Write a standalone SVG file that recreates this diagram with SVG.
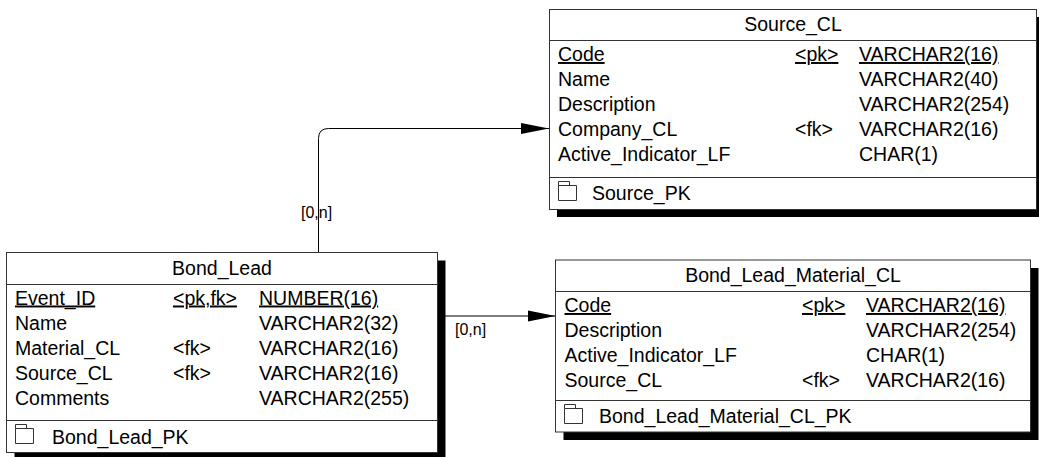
<svg xmlns="http://www.w3.org/2000/svg" width="1039" height="457" viewBox="0 0 1039 457">
<style>
text{font-family:"Liberation Sans",Arial,sans-serif;font-size:19.5px;fill:#000}
.t{text-anchor:middle}
.u{text-decoration:underline}
.lbl{font-size:16px}
.box{fill:#fff;stroke:#333;stroke-width:1}
.sh{fill:#000}
.sep{stroke:#333;stroke-width:1}
.ic{fill:none;stroke:#333;stroke-width:1}
.conn{fill:none;stroke:#000;stroke-width:1}
</style>
<defs>
<marker id="arr" viewBox="0 0 28 12" refX="28" refY="6" markerWidth="28" markerHeight="12" markerUnits="userSpaceOnUse" orient="auto">
<path d="M0,0.5 L28,6 L0,11.5 z" fill="#000"/>
</marker>
</defs>
<g id="connectors">
<path class="conn" d="M318.5,252.5 V138.5 Q318.5,128.5 328.5,128.5 H549" marker-end="url(#arr)"/>
<text class="lbl" x="301" y="218">[0,n]</text>
<path class="conn" d="M437.5,316 H555.5" marker-end="url(#arr)"/>
<text class="lbl" x="455" y="335">[0,n]</text>
</g>
<g id="Source_CL">
<rect class="sh" x="557" y="17" width="488" height="200"/>
<rect class="box" x="549.5" y="9.5" width="487" height="200"/>
<line class="sep" x1="549.5" y1="40.5" x2="1036.5" y2="40.5"/>
<line class="sep" x1="549.5" y1="177.5" x2="1036.5" y2="177.5"/>
<text class="t" x="793" y="31">Source_CL</text>
<text class="u" x="558" y="61">Code</text><text class="u" x="795" y="61">&lt;pk&gt;</text><text class="u" x="859" y="61">VARCHAR2(16)</text>
<text x="558" y="86">Name</text><text x="859" y="86">VARCHAR2(40)</text>
<text x="558" y="111">Description</text><text x="859" y="111">VARCHAR2(254)</text>
<text x="558" y="136">Company_CL</text><text x="795" y="136">&lt;fk&gt;</text><text x="859" y="136">VARCHAR2(16)</text>
<text x="558" y="161">Active_Indicator_LF</text><text x="859" y="161">CHAR(1)</text>
<path class="ic" d="M558.5,200.5 V185.5 H576.5 V200.5 Z M558.5,185.5 V181.5 H569.5 V185.5"/>
<text x="592" y="200">Source_PK</text>
</g>
<g id="Bond_Lead">
<rect class="sh" x="14.5" y="260.5" width="431" height="200"/>
<rect class="box" x="6.5" y="252.5" width="431" height="200"/>
<line class="sep" x1="6.5" y1="284.5" x2="437.5" y2="284.5"/>
<line class="sep" x1="6.5" y1="420.5" x2="437.5" y2="420.5"/>
<text class="t" x="222" y="275">Bond_Lead</text>
<text class="u" x="15" y="304.5">Event_ID</text><text class="u" x="173" y="304.5">&lt;pk,fk&gt;</text><text class="u" x="259" y="304.5">NUMBER(16)</text>
<text x="15" y="329.5">Name</text><text x="259" y="329.5">VARCHAR2(32)</text>
<text x="15" y="354.5">Material_CL</text><text x="173" y="354.5">&lt;fk&gt;</text><text x="259" y="354.5">VARCHAR2(16)</text>
<text x="15" y="379.5">Source_CL</text><text x="173" y="379.5">&lt;fk&gt;</text><text x="259" y="379.5">VARCHAR2(16)</text>
<text x="15" y="404.5">Comments</text><text x="259" y="404.5">VARCHAR2(255)</text>
<path class="ic" d="M15.5,443.5 V428.5 H33.5 V443.5 Z M15.5,428.5 V424.5 H26.5 V428.5"/>
<text x="52" y="443.5">Bond_Lead_PK</text>
</g>
<g id="Bond_Lead_Material_CL">
<rect class="sh" x="563.5" y="268" width="475" height="172"/>
<rect class="box" x="555.5" y="260" width="475" height="172"/>
<line class="sep" x1="555.5" y1="291.5" x2="1030.5" y2="291.5"/>
<line class="sep" x1="555.5" y1="400.5" x2="1030.5" y2="400.5"/>
<text class="t" x="793" y="282">Bond_Lead_Material_CL</text>
<text class="u" x="564.5" y="312">Code</text><text class="u" x="802" y="312">&lt;pk&gt;</text><text class="u" x="866" y="312">VARCHAR2(16)</text>
<text x="564.5" y="337">Description</text><text x="866" y="337">VARCHAR2(254)</text>
<text x="564.5" y="362">Active_Indicator_LF</text><text x="866" y="362">CHAR(1)</text>
<text x="564.5" y="387">Source_CL</text><text x="802" y="387">&lt;fk&gt;</text><text x="866" y="387">VARCHAR2(16)</text>
<path class="ic" d="M564.5,423.5 V408.5 H582.5 V423.5 Z M564.5,408.5 V404.5 H575.5 V408.5"/>
<text x="599" y="423">Bond_Lead_Material_CL_PK</text>
</g>
</svg>
